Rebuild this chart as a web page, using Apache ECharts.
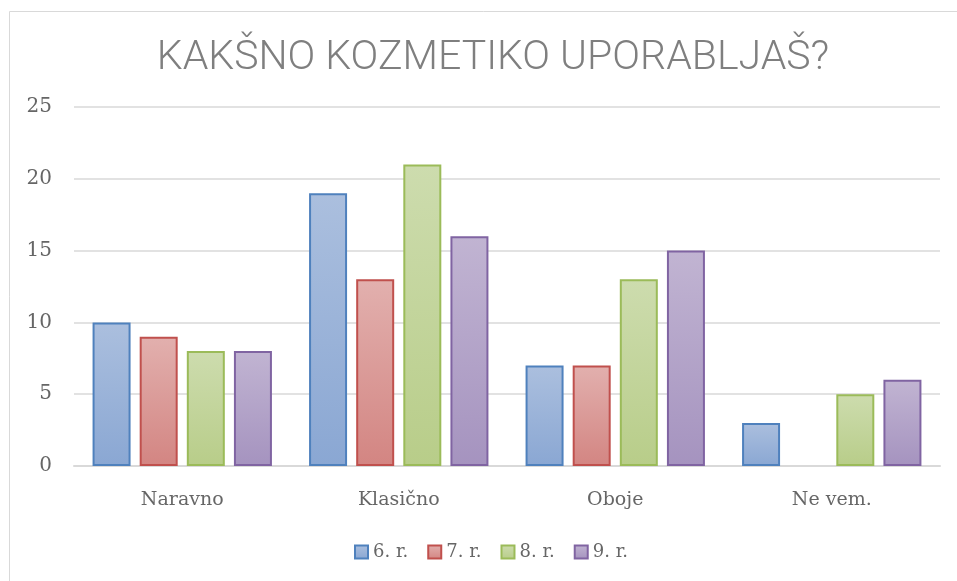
<!DOCTYPE html>
<html>
<head>
<meta charset="utf-8">
<script src="https://cdn.jsdelivr.net/npm/echarts@6/dist/echarts.min.js"></script>
<style>
  html, body { margin: 0; padding: 0; background: #fff; }
  #chart { width: 957px; height: 581px; }
</style>
</head>
<body>
<div id="chart"></div>
<script>
// categories and values
var categories = ['Naravno', 'Klasično', 'Oboje', 'Ne vem.']
var seriesNames = ['6. r.', '7. r.', '8. r.', '9. r.']
var grade6 = [10, 19, 7, 3]
var grade7 = [9, 13, 7, 0]
var grade8 = [8, 21, 13, 5]
var grade9 = [8, 16, 15, 6]
var yTicks = [0, 5, 10, 15, 20, 25]

// office style colours: border, top of gradient, bottom of gradient
var palette = [
    { line: '#4f81bd', top: '#abbfde', bottom: '#8aa7d3' },
    { line: '#c0504d', top: '#e2b0ae', bottom: '#d38582' },
    { line: '#9bbb59', top: '#cddcae', bottom: '#b8cd89' },
    { line: '#8064a2', top: '#c1b4d2', bottom: '#a593bf' }
]

var labelFont = 'DejaVu Serif'
var textGray = '#666666'

function gradient(c) {
    return new echarts.graphic.LinearGradient(0, 0, 0, 1, [
        { offset: 0, color: c.top },
        { offset: 1, color: c.bottom }
    ])
}

var values = [grade6, grade7, grade8, grade9]
var series = values.map(function (data, i) {
    return {
        name: seriesNames[i],
        type: 'bar',
        data: data.map(function (v) { return v === 0 ? null : v }),
        barWidth: 38,
        barGap: '24%',
        itemStyle: {
            color: gradient(palette[i]),
            borderColor: palette[i].line,
            borderWidth: 2
        }
    }
})

var option = {
    animation: false,
    graphic: [{
        type: 'rect',
        shape: { x: 9.5, y: 11.5, width: 1200, height: 1200 },
        style: { fill: 'none', stroke: '#d9d9d9', lineWidth: 1 },
        silent: true
    }],
    title: {
        text: 'KAKŠNO KOZMETIKO UPORABLJAŠ?',
        left: 488,
        textAlign: 'center',
        top: 33,
        textStyle: {
            fontFamily: 'Roboto',
            fontWeight: 300,
            fontSize: 41,
            color: '#7f7f7f'
        }
    },
    legend: {
        data: seriesNames,
        icon: 'rect',
        left: 349,
        top: 538,
        itemWidth: 13,
        itemHeight: 13,
        itemGap: 19,
        textStyle: {
            fontFamily: labelFont,
            fontSize: 18,
            color: textGray
        }
    },
    grid: {
        left: 74,
        right: 17,
        top: 107,
        bottom: 115
    },
    xAxis: {
        type: 'category',
        data: categories,
        axisLine: { lineStyle: { color: '#d9d9d9', width: 2 } },
        axisTick: { show: false },
        axisLabel: {
            margin: 25,
            fontFamily: labelFont,
            fontSize: 19,
            color: textGray
        }
    },
    yAxis: {
        type: 'value',
        min: yTicks[0],
        max: yTicks[yTicks.length - 1],
        interval: 5,
        axisLine: { show: false },
        axisTick: { show: false },
        splitLine: { lineStyle: { color: '#d9d9d9', width: 1.5 } },
        axisLabel: {
            margin: 22,
            fontFamily: labelFont,
            fontSize: 20,
            color: textGray
        }
    },
    series: series
}

var chart = echarts.init(document.getElementById('chart'))
chart.setOption(option)
</script>
</body>
</html>
